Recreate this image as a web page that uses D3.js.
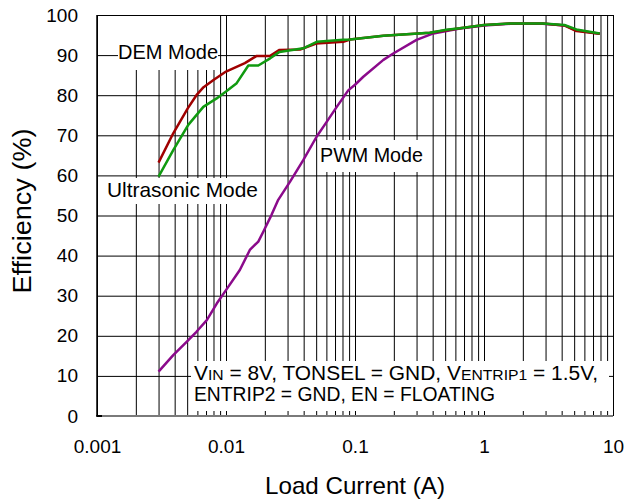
<!DOCTYPE html>
<html>
<head>
<meta charset="utf-8">
<script src="https://cdn.jsdelivr.net/npm/d3@7"></script>
<style>
    body { margin: 0; background: #fff; }
    svg { display: block; font-family: "Liberation Sans", Arial, sans-serif; }
</style>
</head>
<body>
<div id="chart"></div>
<script>
// tick labels
const xTicks = [0.001, 0.01, 0.1, 1, 10];
const yTicks = [0, 10, 20, 30, 40, 50, 60, 70, 80, 90, 100];

// DEM mode (red)
const demCurrent = [0.003, 0.0039, 0.00505, 0.0059, 0.0067, 0.008, 0.01, 0.014, 0.0173, 0.022, 0.026, 0.0375, 0.05, 0.081, 0.0914, 0.166, 0.38, 0.51, 0.65, 1.0, 1.6, 2.86, 4.2, 5.2, 7.9];
const demEff = [63.2, 70.5, 76.7, 80, 82, 83.8, 85.9, 88, 89.8, 89.8, 91.3, 91.4, 92.9, 93.3, 93.9, 94.8, 95.6, 96.2, 96.7, 97.5, 97.9, 97.9, 97.4, 96.0, 95.3];

// Ultrasonic mode (green)
const ultraCurrent = [0.003, 0.0039, 0.0051, 0.00667, 0.00846, 0.01, 0.0121, 0.0149, 0.0178, 0.022, 0.026, 0.0397, 0.0505, 0.081, 0.0914, 0.166, 0.38, 0.51, 0.65, 1.0, 1.6, 2.86, 4.2, 5.2, 7.9];
const ultraEff = [59.7, 66.3, 72.6, 77.1, 79.2, 80.9, 83, 87.4, 87.4, 89.2, 90.8, 91.7, 93.3, 93.8, 93.9, 94.8, 95.6, 96.3, 96.7, 97.5, 97.9, 97.9, 97.5, 96.4, 95.4];

// PWM mode (purple)
const pwmCurrent = [0.003, 0.0039, 0.00495, 0.0059, 0.0071, 0.0085, 0.01, 0.0128, 0.0153, 0.0178, 0.0195, 0.0225, 0.0254, 0.0313, 0.0397, 0.0505, 0.0605, 0.0722, 0.0886, 0.1, 0.116, 0.166, 0.198, 0.30, 0.405, 0.65, 1.0, 1.6, 2.86, 4.2, 5.2, 7.9];
const pwmEff = [11.05, 15.2, 18.5, 21, 23.9, 28.1, 31.4, 36.4, 41.4, 43.5, 46, 50.1, 53.9, 58.4, 63.8, 69.7, 73.4, 77.1, 81.2, 82.6, 84.6, 88.8, 90.4, 93.8, 95.4, 96.6, 97.4, 97.8, 97.8, 97.4, 96.2, 95.3];

const width = 626, height = 502;
const plotLeft = 97, plotRight = 613, plotTop = 15, plotBottom = 416;

const x = d3.scaleLog().domain([0.001, 10]).range([plotLeft, plotRight]);
const y = d3.scaleLinear().domain([0, 100]).range([plotBottom, plotTop]);

const svg = d3.select('#chart').append('svg')
    .attr('width', width)
    .attr('height', height)
    .attr('viewBox', [0, 0, width, height]);

// minor decade positions 1..9 x 10^n
const minor = [];
for (let e = -3; e < 1; e++) {
    for (let k = 1; k < 10; k++) minor.push(+(k * Math.pow(10, e)).toPrecision(3));
}
minor.push(10);

// vertical grid
svg.append('g')
    .attr('transform', `translate(0,${plotBottom})`)
    .call(d3.axisBottom(x).tickValues(minor).tickSize(-(plotBottom - plotTop)).tickFormat(''))
    .call(g => g.select('.domain').remove())
    .call(g => g.selectAll('.tick line').attr('stroke', '#000').attr('stroke-width', 1));

// white label boxes that hide the vertical grid
const labelBoxes = [
    [100, 16, 118, 54],
    [100, 178, 160, 26],
    [318, 140, 107, 32]
];
svg.append('g').selectAll('rect')
    .data(labelBoxes)
    .join('rect')
    .attr('x', d => d[0]).attr('y', d => d[1])
    .attr('width', d => d[2]).attr('height', d => d[3])
    .attr('fill', '#fff');

// horizontal grid
svg.append('g')
    .attr('transform', `translate(${plotLeft},0)`)
    .call(d3.axisLeft(y).tickValues(yTicks).tickSize(-(plotRight - plotLeft)).tickFormat(''))
    .call(g => g.select('.domain').remove())
    .call(g => g.selectAll('.tick line').attr('stroke', '#000').attr('stroke-width', 1));

// tight boxes behind text
svg.append('rect').attr('x', 118).attr('y', 40).attr('width', 100).attr('height', 22).attr('fill', '#fff');
svg.append('rect').attr('x', 191).attr('y', 361).attr('width', 418).attr('height', 50).attr('fill', '#fff');

// axis lines
svg.append('line')
    .attr('x1', plotLeft).attr('x2', plotLeft).attr('y1', plotTop).attr('y2', plotBottom)
    .attr('stroke', '#000').attr('stroke-width', 1.5);
svg.append('line')
    .attr('x1', plotLeft).attr('x2', plotRight).attr('y1', plotBottom).attr('y2', plotBottom)
    .attr('stroke', '#7a7a7a').attr('stroke-width', 2);
svg.append('line')
    .attr('x1', plotLeft - 0.75).attr('x2', plotLeft + 5).attr('y1', plotBottom).attr('y2', plotBottom)
    .attr('stroke', '#000').attr('stroke-width', 2);

// tick labels
svg.append('g')
    .attr('transform', `translate(${plotLeft},0)`)
    .call(d3.axisLeft(y).tickValues(yTicks).tickSize(0).tickPadding(19))
    .call(g => g.select('.domain').remove())
    .call(g => g.selectAll('text')
        .attr('font-family', '"Liberation Sans", Arial, sans-serif')
        .attr('font-size', 19)
        .attr('fill', '#000'));

svg.append('g')
    .attr('transform', `translate(0,${plotBottom})`)
    .call(d3.axisBottom(x).tickValues(xTicks).tickSize(0).tickPadding(24).tickFormat(d => String(d)))
    .call(g => g.select('.domain').remove())
    .call(g => g.selectAll('text')
        .attr('font-family', '"Liberation Sans", Arial, sans-serif')
        .attr('font-size', 19)
        .attr('fill', '#000'));

// axis titles
svg.append('text')
    .attr('x', (plotLeft + plotRight) / 2)
    .attr('y', 494)
    .attr('text-anchor', 'middle')
    .attr('font-size', 24)
    .attr('textLength', 180)
    .attr('lengthAdjust', 'spacingAndGlyphs')
    .text('Load Current (A)');

svg.append('text')
    .attr('transform', 'translate(31,211) rotate(-90)')
    .attr('text-anchor', 'middle')
    .attr('font-size', 25)
    .attr('textLength', 165)
    .attr('lengthAdjust', 'spacingAndGlyphs')
    .text('Efficiency (%)');

// curves
const line = d3.line()
    .x(d => x(d[0]))
    .y(d => y(d[1]));

const series = [
    { current: pwmCurrent, eff: pwmEff, color: '#8b0a8b' },
    { current: demCurrent, eff: demEff, color: '#a00000' },
    { current: ultraCurrent, eff: ultraEff, color: '#109a10' }
];

svg.append('g')
    .attr('fill', 'none')
    .attr('stroke-width', 2.5)
    .attr('stroke-linejoin', 'round')
    .selectAll('path')
    .data(series)
    .join('path')
    .attr('stroke', d => d.color)
    .attr('d', d => line(d3.zip(d.current, d.eff)));

// mode labels
svg.append('text').attr('x', 118).attr('y', 59).attr('font-size', 20)
    .attr('textLength', 100).attr('lengthAdjust', 'spacingAndGlyphs').text('DEM Mode');
svg.append('text').attr('x', 107).attr('y', 197).attr('font-size', 21)
    .attr('textLength', 151).attr('lengthAdjust', 'spacingAndGlyphs').text('Ultrasonic Mode');
svg.append('text').attr('x', 320).attr('y', 162).attr('font-size', 20)
    .attr('textLength', 103).attr('lengthAdjust', 'spacingAndGlyphs').text('PWM Mode');

// condition note
const note1 = svg.append('text')
    .attr('x', 194).attr('y', 380)
    .attr('font-size', 20)
    .attr('textLength', 404)
    .attr('lengthAdjust', 'spacingAndGlyphs');
note1.append('tspan').text('V');
note1.append('tspan').attr('font-size', 15).text('IN');
note1.append('tspan').text(' = 8V, TONSEL = GND, V');
note1.append('tspan').attr('font-size', 15).text('ENTRIP1');
note1.append('tspan').text(' = 1.5V,');

svg.append('text')
    .attr('x', 194).attr('y', 401)
    .attr('font-size', 20)
    .attr('textLength', 301)
    .attr('lengthAdjust', 'spacingAndGlyphs')
    .text('ENTRIP2 = GND, EN = FLOATING');
</script>
</body>
</html>
